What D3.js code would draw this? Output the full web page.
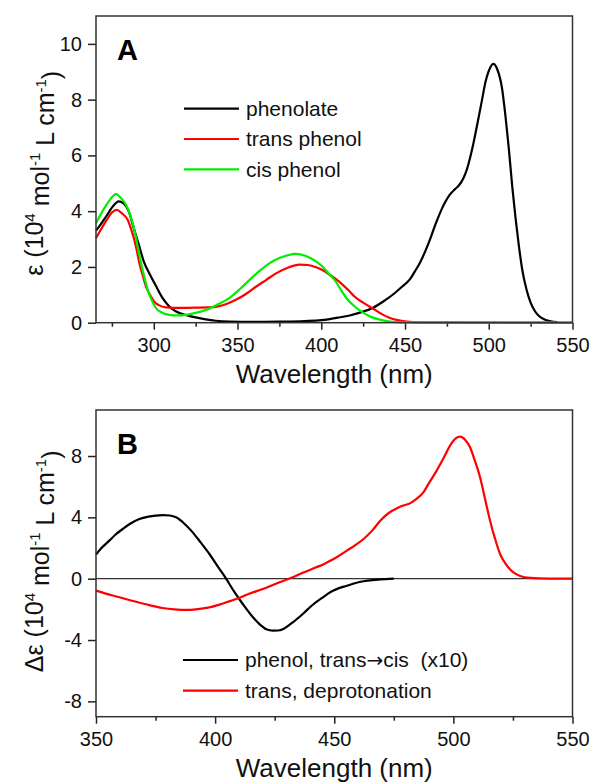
<!DOCTYPE html>
<html>
<head>
<meta charset="utf-8">
<script src="https://cdn.jsdelivr.net/npm/d3@7"></script>
<style>
  body { margin: 0; background: #fff; }
  svg { display: block; font-family: "Liberation Sans", Arial, sans-serif; }
</style>
</head>
<body>
<div id="chart"></div>
<script>
// ---- panel A: absorption spectra, [wavelength nm, eps 10^4 M-1 cm-1]
var phenolate = [[265.5,3.3],[268,3.5],[272,3.85],[276,4.2],[279,4.35],[282,4.28],[285,4.0],[288,3.4],[291.4,2.73],[294,2.2],[297.3,1.77],
  [301,1.35],[305.3,0.88],[309,0.6],[313.3,0.4],[319,0.28],[325,0.19],[331,0.12],[337,0.07],[345,0.04],[360,0.03],[375,0.04],
  [390,0.06],[400,0.09],[405,0.13],[410,0.18],[417,0.26],[424,0.38],[431,0.54],[437,0.76],[443,1.02],[448,1.28],[453,1.56],
  [456,1.85],[459,2.16],[462,2.55],[465,3.0],[468,3.5],[471,3.95],[474,4.33],[477,4.61],[480,4.8],[482,4.91],[485,5.2],[487,5.51],
  [490,6.2],[493,7.07],[496,8.0],[498,8.62],[500.5,9.1],[502.8,9.28],[505,9.1],[508,8.38],[510,7.4],[512,6.23],[514,4.9],[516,3.75],
  [518,2.75],[520,1.9],[522.5,1.2],[525,0.72],[527.5,0.42],[530,0.24],[533,0.12],[537,0.05],[541,0.02]];
var transPhenol = [[265.5,3.03],[268,3.3],[272,3.7],[275,3.95],[277.9,4.05],[281,3.92],[284.4,3.69],[286.5,3.35],[288.4,2.97],[290,2.55],
  [291.4,2.13],[293.5,1.68],[295.4,1.29],[298,0.97],[300.3,0.75],[303,0.63],[307.3,0.55],[315,0.53],[325,0.54],[337,0.57],[343,0.66],
  [349,0.82],[355,1.03],[361,1.29],[367,1.53],[373,1.77],[380,1.97],[387,2.08],[392,2.07],[397,1.99],[401,1.88],[405,1.72],[409,1.55],
  [413,1.35],[417,1.12],[420,0.93],[425,0.72],[431,0.5],[437,0.28],[441,0.17],[445,0.1],[450,0.05],[455,0.02],[465,0.01],[550,0]];
var cisPhenol = [[265.5,3.57],[268,3.85],[272,4.25],[275,4.5],[277.4,4.62],[280,4.5],[283.4,4.23],[286,3.85],[288.4,3.33],[290.5,2.7],
  [292.4,2.13],[294.5,1.6],[296.4,1.17],[298.8,0.8],[301.3,0.52],[305,0.36],[309.3,0.28],[314,0.26],[319.3,0.28],[325,0.35],[331.2,0.46],
  [338,0.65],[345.1,0.88],[351,1.18],[357.1,1.53],[363,1.85],[369,2.13],[375,2.32],[380,2.42],[385,2.47],[390,2.41],[394,2.3],[397,2.19],
  [401,2.0],[405,1.72],[409,1.45],[412,1.15],[415.3,0.86],[420,0.58],[425.2,0.35],[430,0.2],[435,0.11],[440,0.05],[445,0.02],[450,0.01],[550,0]];

// ---- panel B: difference spectra
var transToCis = [[350,1.57],[352,1.95],[355.6,2.48],[358,2.85],[361.2,3.24],[364,3.55],[368.2,3.89],[372,4.05],[378,4.15],[381,4.12],
  [383.6,4.0],[387,3.6],[390.6,3.02],[394,2.35],[397.6,1.61],[401,0.82],[404.6,0],[408,-0.85],[411.6,-1.65],[415,-2.35],[418.6,-2.96],
  [421.5,-3.3],[424.2,-3.39],[426.5,-3.38],[428.4,-3.3],[432,-2.92],[436.8,-2.3],[441,-1.7],[445.2,-1.22],[448.3,-0.88],[451,-0.68],
  [455.3,-0.46],[459,-0.28],[462.3,-0.17],[466,-0.09],[469.3,-0.05],[475,0]];
var deprotonation = [[350,-0.78],[357,-1.1],[364,-1.39],[371,-1.67],[378,-1.91],[383,-2.0],[387.8,-2.04],[392,-2.0],[397.6,-1.87],
  [403,-1.63],[408.8,-1.33],[414,-1.0],[420,-0.67],[426,-0.3],[432.6,0.09],[437,0.4],[442.4,0.74],[446,0.98],[448.3,1.17],[451,1.4],
  [455.3,1.83],[459,2.2],[462.3,2.59],[466,3.15],[469.3,3.78],[473,4.3],[476.3,4.59],[479,4.77],[481.8,4.91],[484.5,5.2],[487.4,5.63],
  [490,6.3],[493,7.05],[496,7.9],[498.6,8.68],[501,9.15],[502.8,9.26],[505,9.05],[507,8.57],[509,7.7],[511.2,6.61],[513.3,5.2],
  [515.4,3.78],[517.5,2.6],[519.6,1.61],[522,0.95],[525.2,0.41],[528,0.18],[532.2,0.05],[540,0],[550,0]];

var xTicksA = [300, 350, 400, 450, 500, 550];
var xMinorA = [275, 325, 375, 425, 475, 525];
var yTicksA = [0, 2, 4, 6, 8, 10];
var xTicksB = [350, 400, 450, 500, 550];
var xMinorB = [375, 425, 475, 525];
var yTicksB = [-8, -4, 0, 4, 8];

var legendA = [{name: ["phenolate"], data: phenolate, color: "#000000"},
               {name: ["trans phenol"], data: transPhenol, color: "#ff0000"},
               {name: ["cis phenol"], data: cisPhenol, color: "#00ee00"}];
var legendB = [{name: ["phenol, trans", "\u2192", "cis  (x10)"], data: transToCis, color: "#000000"},
               {name: ["trans, deprotonation"], data: deprotonation, color: "#ff0000"}];

var width = 592, height = 783;
var left = 96, right = 572.5;

var svg = d3.select('#chart').append('svg')
  .attr('width', width).attr('height', height);

function yTitle(g, x, y, pre) {
  var t = g.append('text')
    .attr('transform', `translate(${x},${y}) rotate(-90)`)
    .attr('text-anchor', 'middle')
    .style('font-size', '25px')
    .attr('fill', '#111')
    .style('white-space', 'pre');
  t.append('tspan').text(pre + ' (10');
  t.append('tspan').attr('dy', '-0.55em').style('font-size', '15px').text('4');
  t.append('tspan').attr('dy', '0.55em').text(' mol');
  t.append('tspan').attr('dy', '-0.55em').style('font-size', '15px').text('-1');
  t.append('tspan').attr('dy', '0.55em').text(' L cm');
  t.append('tspan').attr('dy', '-0.55em').style('font-size', '15px').text('-1');
  t.append('tspan').attr('dy', '0.55em').text(')');
}

function panel(cfg) {
  var x = d3.scaleLinear().domain(cfg.xDomain).range([left, right]);
  var y = d3.scaleLinear().domain(cfg.yDomain).range([cfg.bottom, cfg.top]);
  var g = svg.append('g');

  g.append('g')
    .attr('transform', `translate(0,${cfg.bottom})`)
    .call(d3.axisBottom(x).tickValues(cfg.xTicks).tickSize(7).tickPadding(8).tickFormat(d => String(d)));
  g.append('g')
    .attr('transform', `translate(0,${cfg.bottom})`)
    .call(d3.axisBottom(x).tickValues(cfg.xMinor).tickSize(4).tickFormat(''));
  g.append('g')
    .attr('transform', `translate(${left},0)`)
    .call(d3.axisLeft(y).tickValues(cfg.yTicks).tickSize(8).tickPadding(6).tickFormat(d => String(d)));

  g.selectAll('.domain').remove();
  g.selectAll('.tick line').attr('stroke', '#222').attr('stroke-width', 1.5);
  g.selectAll('.tick text').style('font-size', '20px').style('font-family', '"Liberation Sans", Arial, sans-serif').attr('fill', '#111');

  if (cfg.zeroLine) {
    g.append('line')
      .attr('x1', left).attr('x2', right)
      .attr('y1', y(0)).attr('y2', y(0))
      .attr('stroke', '#333').attr('stroke-width', 1.2);
  }

  var line = d3.line().x(d => x(d[0])).y(d => y(d[1])).curve(d3.curveMonotoneX);
  cfg.series.forEach(function(s) {
    g.append('path')
      .datum(s.data)
      .attr('fill', 'none')
      .attr('stroke', s.color)
      .attr('stroke-width', 2.2)
      .attr('stroke-linejoin', 'round')
      .attr('d', line);
  });

  g.append('rect')
    .attr('x', left).attr('y', cfg.top)
    .attr('width', right - left).attr('height', cfg.bottom - cfg.top)
    .attr('fill', 'none').attr('stroke', '#333').attr('stroke-width', 1.5);

  // panel letter
  g.append('text')
    .attr('x', 117).attr('y', cfg.top + 44)
    .style('font-size', '29px').style('font-weight', 'bold')
    .text(cfg.letter);

  // legend
  cfg.series.forEach(function(s, i) {
    var ly = cfg.legendY + i * cfg.legendStep;
    g.append('line')
      .attr('x1', cfg.legendX).attr('x2', cfg.legendX + 55)
      .attr('y1', ly).attr('y2', ly)
      .attr('stroke', s.color).attr('stroke-width', 2.2);
    var t = g.append('text')
      .attr('x', cfg.legendX + 62).attr('y', ly)
      .attr('dy', '0.35em')
      .style('font-size', '21px')
      .style('white-space', 'pre')
      .attr('fill', '#111');
    s.name.forEach(function(part) {
      var sp = t.append('tspan').text(part);
      if (part === '\u2192') sp.style('font-family', '"DejaVu Sans", sans-serif').style('font-size', '20px');
    });
  });

  g.append('text')
    .attr('x', (left + right) / 2).attr('y', cfg.bottom + 60)
    .attr('text-anchor', 'middle')
    .style('font-size', '26px')
    .attr('fill', '#111')
    .text('Wavelength (nm)');

  yTitle(g, 43, (cfg.top + cfg.bottom) / 2 + cfg.titleShift, cfg.yName);
}

panel({
  xDomain: [265.5, 550], yDomain: [0, 11], top: 16, bottom: 322.7,
  xTicks: xTicksA, xMinor: xMinorA, yTicks: yTicksA,
  series: legendA, letter: 'A', legendX: 184, legendY: 108.7, legendStep: 30.3,
  yName: '\u03b5', titleShift: 4, zeroLine: false
});

panel({
  xDomain: [350, 550], yDomain: [-9, 11], top: 410, bottom: 716.7,
  xTicks: xTicksB, xMinor: xMinorB, yTicks: yTicksB,
  series: legendB, letter: 'B', legendX: 183, legendY: 660, legendStep: 30.7,
  yName: '\u0394\u03b5', titleShift: -2, zeroLine: true
});
</script>
</body>
</html>
